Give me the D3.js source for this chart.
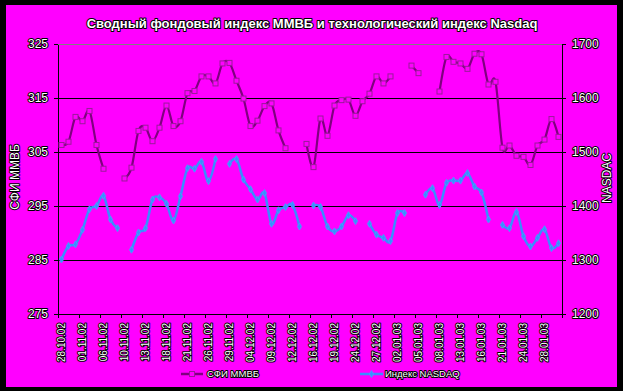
<!DOCTYPE html>
<html>
<head>
<meta charset="utf-8">
<script src="https://cdn.jsdelivr.net/npm/d3@7"></script>
<style>
body { margin: 0; background: #000; }
text { font-family: "Liberation Sans", Arial, sans-serif; }
</style>
</head>
<body>
<div id="chart"></div>
<script>
// Tick labels (one label every 3 categories)
const tickLabels = ['28.10.02', '01.11.02', '06.11.02', '10.11.02', '13.11.02', '18.11.02',
    '21.11.02', '26.11.02', '29.11.02', '04.12.02', '09.12.02', '12.12.02', '16.12.02',
    '19.12.02', '24.12.02', '27.12.02', '02.01.03', '05.01.03', '08.01.03', '13.01.03',
    '16.01.03', '21.01.03', '24.01.03', '28.01.03'];

// СФИ ММВБ (left axis)
const mmvb = [306.3, 306.9, 311.5, 310.7, 312.6, 306.3, 301.9, null, null, 300.1,
    302.1, 308.9, 309.5, 307.0, 309.5, 313.6, 309.8, 310.7, 315.9, 316.3,
    319.0, 319.0, 317.7, 321.4, 321.5, 318.2, 314.9, 309.8, 310.8, 313.5,
    314.0, 309.0, 305.7, null, null, 306.5, 302.2, 311.2, 308.0, 313.6,
    314.6, 314.7, 311.7, 314.4, 315.8, 319.0, 317.7, 319.0, null, null,
    321.0, 319.6, null, null, 316.2, 322.6, 321.7, 321.4, 320.4, 323.2,
    323.1, 317.5, 318.0, 305.8, 306.2, 304.3, 304.1, 302.6, 306.2, 307.3,
    311.1, 307.8];

// Индекс NASDAQ (right axis)
const nasdaq = [1301, 1326, 1329, 1356, 1394, 1400, 1419, 1375, 1359, null,
    1319, 1351, 1359, 1412, 1416, 1404, 1373, 1418, 1470, 1469,
    1482, 1446, 1487, null, 1478, 1487, 1449, 1431, 1412, 1424,
    1367, 1392, 1398, 1402, 1362, null, 1401, 1398, 1362, 1353,
    1362, 1383, 1372, null, 1367, 1347, 1341, 1335, 1387, 1387,
    null, null, 1421, 1433, 1402, 1443, 1447, 1447, 1461, 1436,
    1425, 1375, null, 1365, 1359, 1389, 1344, 1325, 1341, 1357,
    1322, 1331];

const leftTicks = [275, 285, 295, 305, 315, 325];
const rightTicks = [1200, 1300, 1400, 1500, 1600, 1700];

const W = 623, H = 391;
const plotL = 58, plotR = 562, plotT = 44, plotB = 314;
const purple = '#800080', blue = '#3a8cff';

function outlined(sel) {
    sel.attr('fill', '#fff')
        .attr('stroke', '#000')
        .attr('stroke-width', 2)
        .attr('stroke-linejoin', 'round')
        .attr('paint-order', 'stroke');
}

const svg = d3.select('#chart')
    .append('svg')
    .attr('width', W)
    .attr('height', H);

svg.append('rect').attr('width', W).attr('height', H).attr('fill', '#000');
svg.append('rect').attr('x', 6).attr('y', 5).attr('width', 611).attr('height', 382).attr('fill', '#ff00ff');

const x = d3.scaleBand()
    .domain(d3.range(mmvb.length))
    .range([plotL, plotR]);
const xEdge = d3.scaleLinear()
    .domain([0, mmvb.length])
    .range([plotL, plotR]);
const cx = i => x(i) + x.bandwidth() / 2;

const yL = d3.scaleLinear().domain([275, 325]).range([plotB, plotT]);
const yR = d3.scaleLinear().domain([1200, 1700]).range([plotB, plotT]);

// Gridlines
svg.append('g')
    .selectAll('line')
    .data(leftTicks.slice(1))
    .enter()
    .append('line')
    .attr('x1', plotL)
    .attr('x2', plotR)
    .attr('y1', d => yL(d))
    .attr('y2', d => yL(d))
    .attr('stroke', d => d === 325 ? '#808080' : '#000')
    .attr('stroke-width', 1)
    .attr('shape-rendering', 'crispEdges');

// Axes
const gL = svg.append('g')
    .attr('transform', `translate(${plotL},0)`)
    .call(d3.axisLeft(yL).tickValues(leftTicks).tickSize(4).tickSizeOuter(0).tickPadding(6));
const gR = svg.append('g')
    .attr('transform', `translate(${plotR},0)`)
    .call(d3.axisRight(yR).tickValues(rightTicks).tickFormat(d3.format('d')).tickSize(4).tickSizeOuter(0).tickPadding(6));
const gB = svg.append('g')
    .attr('transform', `translate(0,${plotB})`)
    .call(d3.axisBottom(xEdge).tickValues(d3.range(0, mmvb.length + 1, 3)).tickSize(4).tickSizeOuter(0).tickFormat(''));

[gL, gR, gB].forEach(g => {
    g.selectAll('path, line').attr('stroke', '#000').attr('shape-rendering', 'crispEdges');
    g.selectAll('text').attr('font-size', 12).call(outlined);
});

// Category labels
svg.append('g')
    .selectAll('text')
    .data(tickLabels)
    .enter()
    .append('text')
    .attr('transform', (d, k) => `translate(${cx(k * 3)},323) rotate(-90)`)
    .attr('text-anchor', 'end')
    .attr('dy', '0.36em')
    .attr('font-size', 10)
    .text(d => d)
    .call(outlined);

// Series
const lineL = d3.line()
    .defined(d => d != null)
    .x((d, i) => cx(i))
    .y(d => yL(d))
    .curve(d3.curveCatmullRom.alpha(0));
const lineR = d3.line()
    .defined(d => d != null)
    .x((d, i) => cx(i))
    .y(d => yR(d))
    .curve(d3.curveCatmullRom.alpha(0));

svg.append('path')
    .datum(mmvb)
    .attr('fill', 'none')
    .attr('stroke', purple)
    .attr('stroke-width', 2.2)
    .attr('d', lineL);

svg.append('g')
    .selectAll('rect')
    .data(mmvb.map((v, i) => ({ v, i })).filter(d => d.v != null))
    .enter()
    .append('rect')
    .attr('x', d => cx(d.i) - 2.5)
    .attr('y', d => yL(d.v) - 2.5)
    .attr('width', 5)
    .attr('height', 5)
    .attr('fill', '#ff00ff')
    .attr('stroke', '#9a1a9a')
    .attr('stroke-width', 1);

svg.append('path')
    .datum(nasdaq)
    .attr('fill', 'none')
    .attr('stroke', blue)
    .attr('stroke-width', 2.5)
    .attr('d', lineR);

const diamond = d3.symbol().type(d3.symbolDiamond).size(14);
svg.append('g')
    .selectAll('path')
    .data(nasdaq.map((v, i) => ({ v, i })).filter(d => d.v != null))
    .enter()
    .append('path')
    .attr('transform', d => `translate(${cx(d.i)},${yR(d.v)})`)
    .attr('d', diamond)
    .attr('fill', blue)
    .attr('stroke', '#4a9aff')
    .attr('stroke-width', 1);

// Title
svg.append('text')
    .attr('x', 312)
    .attr('y', 27.5)
    .attr('text-anchor', 'middle')
    .attr('font-size', 13)
    .attr('font-weight', 'bold')
    .text('Сводный фондовый индекс ММВБ и технологический индекс Nasdaq')
    .call(outlined);

// Axis titles
svg.append('text')
    .attr('transform', 'translate(15,177) rotate(-90)')
    .attr('text-anchor', 'middle')
    .attr('dy', '0.36em')
    .attr('font-size', 12)
    .text('СФИ ММВБ')
    .call(outlined);

svg.append('text')
    .attr('transform', 'translate(607,178) rotate(-90)')
    .attr('text-anchor', 'middle')
    .attr('dy', '0.36em')
    .attr('font-size', 12)
    .text('NASDAC')
    .call(outlined);

// Legend
const legend = svg.append('g').attr('transform', 'translate(0,374)');
legend.append('line').attr('x1', 181).attr('x2', 203).attr('stroke', purple).attr('stroke-width', 2.5);
legend.append('rect').attr('x', 189.5).attr('y', -2.5).attr('width', 5).attr('height', 5)
    .attr('fill', '#ff00ff').attr('stroke', '#9a1a9a');
legend.append('text').attr('x', 207).attr('dy', '0.36em').attr('font-size', 9.5)
    .text('СФИ ММВБ').call(outlined);

legend.append('line').attr('x1', 360).attr('x2', 383).attr('stroke', blue).attr('stroke-width', 2.5);
legend.append('path').attr('transform', 'translate(371.5,0)').attr('d', diamond)
    .attr('fill', blue).attr('stroke', '#4a9aff');
legend.append('text').attr('x', 385).attr('dy', '0.36em').attr('font-size', 9.5)
    .text('Индекс NASDAQ').call(outlined);
</script>
</body>
</html>
